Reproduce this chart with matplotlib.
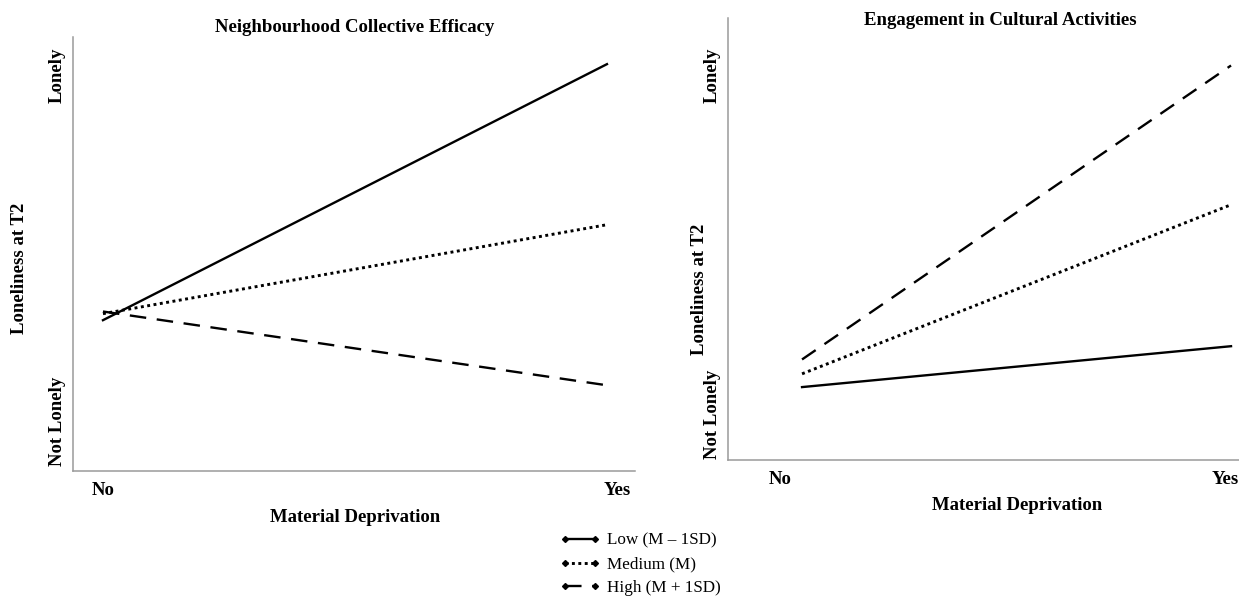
import matplotlib
matplotlib.use("Agg")
import matplotlib.pyplot as plt
from matplotlib.lines import Line2D

plt.rcParams['font.family'] = ['Liberation Serif', 'DejaVu Serif']

# --- data (loneliness, arbitrary 1-5 scale) ---
x_cat = [0, 1]                       # No, Yes
groups = ['Low (M – 1SD)', 'Medium (M)', 'High (M + 1SD)']

ce_low = [2.39, 4.75]
ce_med = [2.45, 3.27]
ce_high = [2.47, 1.79]

cult_low = [1.66, 2.03]
cult_med = [1.78, 3.31]
cult_high = [1.91, 4.57]

ytick_labels = ['Not Lonely', 'Lonely']
xtick_labels = ['No', 'Yes']

FS = 13.5
STYLES = [
    dict(linestyle='-', lw=1.7),
    dict(linestyle=(0, (1, 1.2)), lw=2.1),
    dict(linestyle=(0, (7, 4.5)), lw=1.7),
]
SPINE = '#9a9a9a'


def style_axes(ax, xlim, xticks, yticks, title, title_xy, xlab_xy, ylab_xy):
    for s in ['top', 'right']:
        ax.spines[s].set_visible(False)
    for s in ['left', 'bottom']:
        ax.spines[s].set_color(SPINE)
        ax.spines[s].set_linewidth(1.1)
    ax.set_xlim(*xlim)
    ax.set_ylim(1, 5)
    ax.set_xticks(xticks)
    ax.set_xticklabels(xtick_labels, fontsize=FS, fontweight='bold')
    ax.set_yticks(yticks)
    ax.set_yticklabels(ytick_labels, fontsize=FS, fontweight='bold',
                       rotation=90, va='center')
    ax.tick_params(axis='both', length=0)
    ax.tick_params(axis='x', pad=8)
    ax.tick_params(axis='y', pad=5)
    ax.set_xlabel('Material Deprivation', fontsize=FS, fontweight='bold')
    ax.set_ylabel('Loneliness at T2', fontsize=FS, fontweight='bold')
    ax.xaxis.set_label_coords(*xlab_xy)
    ax.yaxis.set_label_coords(*ylab_xy)
    ax.text(title_xy[0], title_xy[1], title, transform=ax.transAxes,
            ha='center', va='center', fontsize=FS, fontweight='bold')


fig = plt.figure(figsize=(12.39, 5.99), dpi=100)

# left panel
ax1 = fig.add_axes([0.0589, 0.2137, 0.4536, 0.7245])
for ys, st in zip([ce_low, ce_med, ce_high], STYLES):
    ax1.plot(x_cat, ys, color='black', **st)
style_axes(ax1, (-0.0595, 1.0556), [0.0, 1.02], [1.46, 4.65],
           'Neighbourhood Collective Efficacy', (0.502, 1.023),
           (0.502, -0.088), (-0.080, 0.468))

# right panel
ax2 = fig.add_axes([0.5876, 0.232, 0.4124, 0.738])
for ys, st in zip([cult_low, cult_med, cult_high], STYLES):
    ax2.plot(x_cat, ys, color='black', **st)
style_axes(ax2, (-0.1725, 1.0186), [-0.051, 0.986], [1.41, 4.48],
           'Engagement in Cultural Activities', (0.532, 0.995),
           (0.566, -0.084), (-0.039, 0.385))

# legend
handles = [Line2D([0], [0], color='black', marker='D', markersize=3,
                  **st) for st in STYLES]
fig.legend(handles, groups, loc='upper left',
           bbox_to_anchor=(0.4464, 1 - 526 / 599), frameon=False,
           fontsize=12.3, handlelength=2.35, handletextpad=0.4,
           labelspacing=0.45, numpoints=2, borderaxespad=0)

fig.savefig('out.png', dpi=100)
